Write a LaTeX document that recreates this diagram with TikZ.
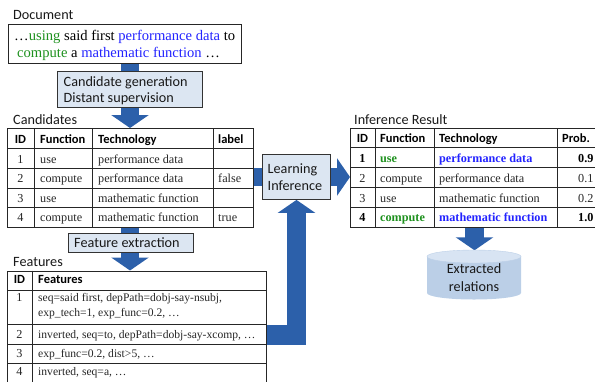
\documentclass[tikz,border=0pt]{standalone}
\usepackage{fontspec}
\setmainfont{Liberation Serif}
\newfontfamily\calib{Carlito}
\usetikzlibrary{arrows.meta,backgrounds}
\definecolor{arrowblue}{RGB}{44,96,170}
\definecolor{boxfill}{RGB}{220,230,242}
\definecolor{cylbody}{RGB}{187,207,231}
\definecolor{cyltop}{RGB}{216,228,243}
\definecolor{txtgreen}{RGB}{30,145,30}
\definecolor{txtblue}{RGB}{35,35,255}
\begin{document}
\begin{tikzpicture}[x=1bp,y=-1bp,
 lab/.style={font=\calib\fontsize{14.2bp}{17bp}\selectfont, anchor=base west, inner sep=0pt, text=black!90},
 doctext/.style={font=\fontsize{14.6bp}{17bp}\selectfont, anchor=base west, inner sep=0pt},
 cell/.style={font=\fontsize{12.2bp}{14bp}\selectfont, anchor=base west, inner sep=0pt, text=black!85},
 fcell/.style={cell, font=\fontsize{11.6bp}{14bp}\selectfont},
 cellc/.style={cell, anchor=base},
 bcell/.style={cell, font=\bfseries\fontsize{12.2bp}{14bp}\selectfont},
 hdr/.style={font=\calib\bfseries\fontsize{12.5bp}{14bp}\selectfont, anchor=base west, inner sep=0pt},
 hdrc/.style={hdr, anchor=base},
 tbl/.style={draw=black!85, line width=0.9bp, inner sep=0pt, anchor=north west},
 grid/.style={draw=black!85, line width=0.9bp},
 stepbox/.style={draw=black!80, line width=0.9bp, fill=boxfill, inner sep=0pt, anchor=north west},
 bigarrow/.style={draw=arrowblue, line width=19bp, -{Triangle[width=37bp,length=13bp]}},
]
\useasboundingbox (0,0) rectangle (595,381);
\clip (0,0) rectangle (595,381);

% ---------- Document ----------
\node[lab] (doclab) at (13,19) {Document};
\node[tbl, minimum width=233bp, minimum height=39bp] (doc) at (7.5,24) {};
\node[doctext] (d1) at (14,40) {…\textcolor{txtgreen}{using} said first \textcolor{txtblue}{performance data} to};
\node[doctext] (d2) at (17,57) {\textcolor{txtgreen}{compute} a \textcolor{txtblue}{mathematic function} …};

% ---------- Candidates table ----------
\node[lab] (candlab) at (13,124) {Candidates};
\node[tbl, minimum width=246bp, minimum height=99bp] (cand) at (7,128) {};
\foreach \yy in {148,168,188,207.5} \draw[grid] (7,\yy) -- (253,\yy);
\foreach \xx in {34,92,213} \draw[grid] (\xx,128) -- (\xx,227);
\node[hdrc] (ch0) at (20.5,143) {ID};
\node[hdr] (ch1) at (40,143) {Function};
\node[hdr] (ch2) at (98,143) {Technology};
\node[hdr] (ch3) at (218,143) {label};
\node[cellc] (c1a) at (20.5,163) {1};
\node[cell] (c1b) at (40,163) {use};
\node[cell] (c1c) at (98,163) {performance data};
\node[cellc] (c2a) at (20.5,182.5) {2};
\node[cell] (c2b) at (40,182.5) {compute};
\node[cell] (c2c) at (98,182.5) {performance data};
\node[cell] (c2d) at (218,182.5) {false};
\node[cellc] (c3a) at (20.5,202) {3};
\node[cell] (c3b) at (40,202) {use};
\node[cell] (c3c) at (98,202) {mathematic function};
\node[cellc] (c4a) at (20.5,221.5) {4};
\node[cell] (c4b) at (40,221.5) {compute};
\node[cell] (c4c) at (98,221.5) {mathematic function};
\node[cell] (c4d) at (218,221.5) {true};

% ---------- Features table ----------
\node[lab] (featlab) at (13,266) {Features};
\node[tbl, minimum width=259bp, minimum height=130bp] (feat) at (7,270.5) {};
\foreach \yy in {290.5,324,344.5,363.5} \draw[grid] (7,\yy) -- (266,\yy);
\draw[grid] (32,270.5) -- (32,400);
\node[hdrc] (fh0) at (19.5,283.5) {ID};
\node[hdr] (fh1) at (38,283.5) {Features};
\node[cellc] (f1a) at (19.5,301) {1};
\node[fcell] (f1b) at (38,301) {seq=said first, depPath=dobj-say-nsubj,};
\node[fcell] (f1c) at (38,316.5) {exp\_tech=1, exp\_func=0.2, …};
\node[cellc] (f2a) at (19.5,338) {2};
\node[fcell] (f2b) at (38,338) {inverted, seq=to, depPath=dobj-say-xcomp, …};
\node[cellc] (f3a) at (19.5,357) {3};
\node[fcell] (f3b) at (38,357) {exp\_func=0.2, dist>5, …};
\node[cellc] (f4a) at (19.5,375.5) {4};
\node[fcell] (f4b) at (38,375.5) {inverted, seq=a, …};

% ---------- Inference table ----------
\node[lab] (inflab) at (354,124) {Inference Result};
\node[tbl, minimum width=260bp, minimum height=99bp] (inf) at (350,128) {};
\foreach \yy in {147,167.5,187,207} \draw[grid] (350,\yy) -- (610,\yy);
\foreach \xx in {375,434,557} \draw[grid] (\xx,128) -- (\xx,227);
\node[hdrc] (ih0) at (362.5,142) {ID};
\node[hdr] (ih1) at (380,142) {Function};
\node[hdr] (ih2) at (439,142) {Technology};
\node[hdr] (ih3) at (562,142) {Prob.};
\node[bcell, anchor=base, text=black] (i1a) at (362.5,162) {1};
\node[bcell, text=txtgreen] (i1b) at (380,162) {use};
\node[bcell, text=txtblue] (i1c) at (439,162) {performance data};
\node[bcell, text=black] (i1d) at (578,162) {0.9};
\node[cellc] (i2a) at (362.5,182) {2};
\node[cell] (i2b) at (380,182) {compute};
\node[cell] (i2c) at (439,182) {performance data};
\node[cell] (i2d) at (578,182) {0.1};
\node[cellc] (i3a) at (362.5,202) {3};
\node[cell] (i3b) at (380,202) {use};
\node[cell] (i3c) at (439,202) {mathematic function};
\node[cell] (i3d) at (578,202) {0.2};
\node[bcell, anchor=base, text=black] (i4a) at (362.5,221) {4};
\node[bcell, text=txtgreen] (i4b) at (380,221) {compute};
\node[bcell, text=txtblue] (i4c) at (439,221) {mathematic function};
\node[bcell, text=black] (i4d) at (578,221) {1.0};

% ---------- Step boxes ----------
\node[stepbox, minimum width=145bp, minimum height=36bp] (gen) at (57,71) {};
\node[lab] (gen1) at (63.5,86) {Candidate generation};
\node[lab] (gen2) at (63.5,102) {Distant supervision};
\node[stepbox, minimum width=125bp, minimum height=19bp] (fx) at (68,233) {};
\node[lab] (fx1) at (74,247) {Feature extraction};
\node[stepbox, minimum width=68bp, minimum height=45bp] (learn) at (262,154) {};
\node[lab] (learn1) at (267.5,173.3) {Learning};
\node[lab] (learn2) at (267.5,190.7) {Inference};

% ---------- Extracted relations (database) ----------
\node[inner sep=0pt, minimum width=94bp, minimum height=49bp] (ext) at (474,275) {};
\fill[cylbody] (427,256.5) -- (427,293) arc[start angle=180, end angle=0, x radius=47, y radius=6.5] -- (521,256.5) -- cycle;
\filldraw[fill=cyltop, draw=cylbody] (474,256.5) ellipse[x radius=47, y radius=6.5];
\node[lab, anchor=base] (ext1) at (474,273.7) {Extracted};
\node[lab, anchor=base] (ext2) at (474,291.3) {relations};

% ---------- Arrows ----------
\coordinate (ax1) at (130,0);
\coordinate (ax2) at (474.5,0);
\coordinate (ay1) at (0,177);
\coordinate (ay2) at (0,335);
\coordinate (ax3) at (296.5,0);
\begin{pgfonlayer}{background}
\draw[bigarrow, line width=18.5bp] (doc.south -| ax1) -- (cand.north -| ax1);
\draw[bigarrow, line width=18.5bp] (cand.south -| ax1) -- (feat.north -| ax1);
\draw[bigarrow, line width=18.5bp] (cand.east |- ay1) -- (inf.west |- ay1);
\draw[bigarrow, line width=19.5bp] (feat.east |- ay2) -| (learn.south -| ax3);
\draw[bigarrow, line width=18.5bp] (inf.south -| ax2) -- (ext.north -| ax2);
\end{pgfonlayer}
\end{tikzpicture}
\end{document}
